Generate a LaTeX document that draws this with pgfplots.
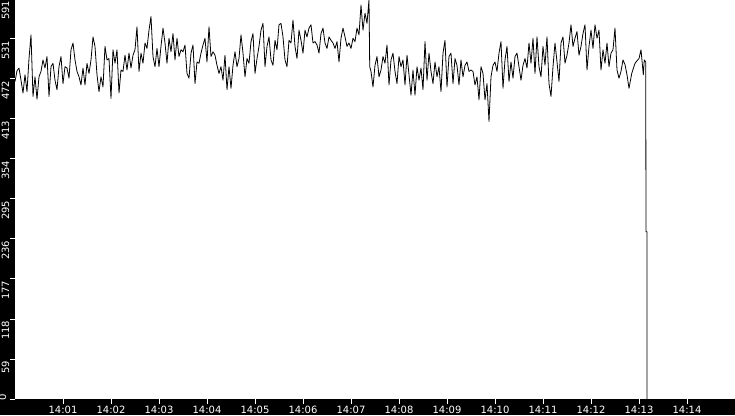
\documentclass[border=0pt]{standalone}
\usepackage{pgfplots}
\pgfplotsset{compat=1.18}
\usepackage{pgfplotstable}
\usepackage{fontspec}
\setmainfont{DejaVu Sans}

% seconds after 14:00, value
\pgfplotstableread{
t v
0 469
2.5 485
5 489
7.5 471
10 452
12.5 479
15 454
17.5 503
20 538
22.5 447
25 476
27.5 443
30 476
32.5 484
35 501
37.5 489
40 506
42.5 447
45 491
47.5 496
50 471
52.5 457
55 491
57.5 506
60 466
62.5 491
65 489
67.5 474
70 516
72.5 526
75 501
77.5 484
80 476
82.5 464
85 489
87.5 464
90 496
92.5 481
95 501
97.5 535
100 521
102.5 479
105 454
107.5 476
110 461
112.5 521
115 501
117.5 503
120 444
122.5 516
125 496
127.5 516
130 452
132.5 486
135 484
137.5 508
140 486
142.5 511
145 489
147.5 508
150 516
152.5 550
155 484
157.5 511
160 496
162.5 526
165 518
167.5 545
170 565
172.5 506
175 491
177.5 518
180 491
182.5 521
185 548
187.5 526
190 496
192.5 533
195 513
197.5 540
200 501
202.5 533
205 506
207.5 516
210 513
212.5 523
215 481
217.5 474
220 511
222.5 523
225 466
227.5 498
230 496
232.5 511
235 523
237.5 533
240 498
242.5 550
245 506
247.5 513
250 508
252.5 493
255 481
257.5 491
260 471
262.5 508
265 457
267.5 491
270 459
272.5 493
275 513
277.5 491
280 503
282.5 538
285 511
287.5 476
290 503
292.5 496
295 528
297.5 540
300 481
302.5 503
305 521
307.5 545
310 555
312.5 491
315 521
317.5 535
320 501
322.5 493
325 530
327.5 516
330 553
332.5 555
335 535
337.5 501
340 491
342.5 530
345 526
347.5 560
350 521
352.5 503
355 545
357.5 530
360 511
362.5 545
365 535
367.5 548
370 553
372.5 526
375 528
377.5 523
380 511
382.5 540
385 548
387.5 526
390 518
392.5 535
395 530
397.5 526
400 518
402.5 528
405 498
407.5 533
410 548
412.5 535
415 521
417.5 526
420 518
422.5 533
425 528
427.5 548
430 538
432.5 582
435 545
437.5 570
440 555
442.5 590
443.4 491
445 484
447.5 461
450 493
452.5 506
455 476
457.5 486
460 506
462.5 496
465 523
467.5 464
470 501
472.5 511
475 484
477.5 466
480 506
482.5 491
485 501
487.5 464
490 508
492.5 479
495 449
497.5 486
500 449
502.5 491
505 471
507.5 489
510 457
512.5 528
515 471
517.5 511
520 484
522.5 466
525 498
527.5 476
530 491
532.5 454
535 511
537.5 530
540 461
542.5 506
545 511
547.5 466
550 503
552.5 493
555 464
557.5 501
560 476
562.5 493
565 498
567.5 484
570 486
572.5 484
575 464
577.5 476
580 442
582.5 491
585 481
587.5 442
590 466
592.5 410
595 476
597.5 493
600 498
602.5 484
605 511
607.5 528
610 459
612.5 501
615 521
617.5 469
620 498
622.5 474
625 506
627.5 511
630 491
632.5 471
635 493
637.5 503
640 489
642.5 526
645 496
647.5 533
650 481
652.5 535
655 491
657.5 476
660 521
662.5 493
665 535
667.5 466
670 447
672.5 491
675 526
677.5 498
680 469
682.5 526
685 535
687.5 496
690 508
692.5 526
695 553
697.5 521
700 533
702.5 543
705 508
707.5 521
710 540
712.5 553
715 486
717.5 521
720 545
722.5 518
725 553
727.5 533
730 545
732.5 486
735 516
737.5 496
740 526
742.5 491
745 511
747.5 516
750 548
752.5 486
755 474
757.5 484
760 501
762.5 494
765 479
767.5 459
770.9 481
775 496
778.4 501
780 503
782.5 516
785.4 479
786.6 501
788.4 498
788.75 247
790 247
790.05 0
}\rate

\begin{document}
\begin{tikzpicture}
\fill[black] (0,0) rectangle (735pt,415pt);
\useasboundingbox (0,0) rectangle (735pt,415pt);
\begin{axis}[
    at={(15pt,16pt)}, anchor=south west,
    scale only axis, width=720pt, height=400pt,
    xmin=0, xmax=900, ymin=0, ymax=591,
    axis background/.style={fill=white},
    axis line style={draw=none},
    xtick={60,120,...,840},
    xticklabels={14:01,14:02,14:03,14:04,14:05,14:06,14:07,14:08,14:09,14:10,14:11,14:12,14:13,14:14},
    ytick={59.1,118.2,177.3,236.4,295.5,354.6,413.7,472.8,531.9,591},
    yticklabels={59,118,177,236,295,354,413,472,531,591},
    extra y ticks={0}, extra y tick labels={0},
    extra y tick style={yticklabel style={yshift=3pt, anchor=west}},
    xtick pos=left, ytick pos=left,
    tick align=outside, major tick length=5pt,
    tick style={white, line width=1pt},
    ticklabel style={white, font=\fontsize{10}{11}\selectfont, inner sep=0pt},
    yticklabel style={xshift=-4.5pt, yshift=-1.5pt, rotate=90, anchor=east},
    xticklabel style={anchor=north, yshift=-2pt},
    clip=true,
]
\addplot[black, line width=0.8pt, line join=round, mark=none] table[x=t, y=v] {\rate};
\end{axis}
\end{tikzpicture}
\end{document}
